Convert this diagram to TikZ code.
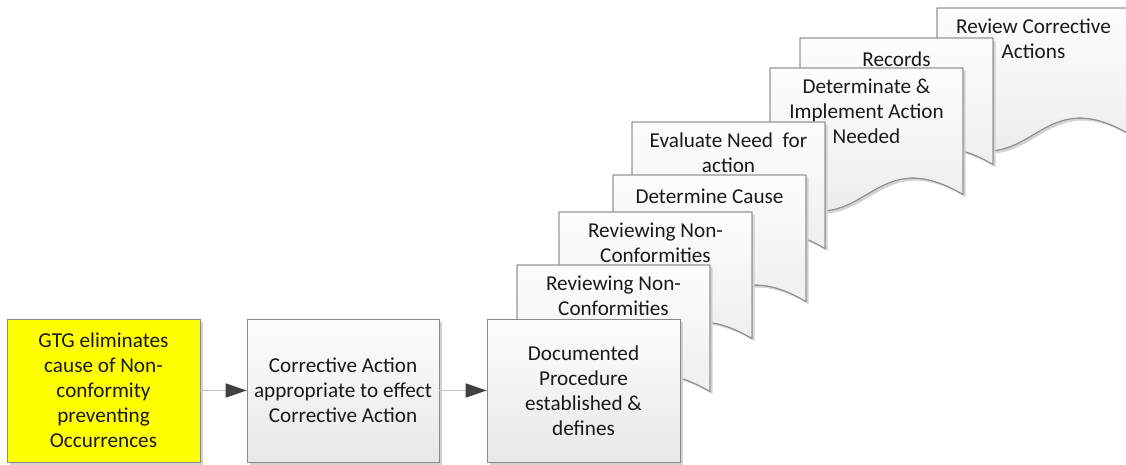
\documentclass[tikz,border=0pt]{standalone}
\usepackage{fontspec}
\setmainfont{Carlito}
\usetikzlibrary{arrows.meta,shadows}
\definecolor{edgegray}{HTML}{8A8A8A}
\definecolor{fillTop}{HTML}{FDFDFD}
\definecolor{fillBot}{HTML}{E8E8E8}
\definecolor{shadowgray}{HTML}{D2D2D2}
\definecolor{linkgray}{HTML}{C4C4C4}
\definecolor{headgray}{HTML}{404040}
\definecolor{gtgyellow}{HTML}{FFFF00}
\definecolor{textblack}{HTML}{1A1A1A}

\tikzset{
  basefont/.style={font=\fontsize{21.2}{25}\selectfont, text=textblack},
  procbox/.style={basefont, draw=edgegray, line width=0.8pt, minimum width=193pt,
    minimum height=143pt, inner sep=0pt, align=center,
    top color=fillTop, bottom color=fillBot,
    drop shadow={shadow xshift=2.5pt, shadow yshift=-2.5pt, fill=shadowgray, opacity=1}},
  yellowbox/.style={procbox, top color=gtgyellow, bottom color=gtgyellow, fill=gtgyellow},
  docpath/.style={draw=edgegray, line width=0.8pt, top color=fillTop, bottom color=fillBot},
  docshadow/.style={fill=shadowgray},
  doctext/.style={basefont, anchor=north, inner sep=0pt, align=center,
    execute at begin node=\strut},
  link/.style={draw=linkgray, line width=1.8pt,
    -{Triangle[length=21pt,width=14pt,color=headgray]}}
}

\newcommand\vdocshape[4]{%
  \fill[docshadow] ({#2+2.5},{#3+2.5}) -- ({#2+195.5},{#3+2.5}) -- ({#2+195.5},{#3+129.1})
    .. controls ({#2+99},{#3+71.9}) and ({#2+99},{#3+186.3}) .. ({#2+2.5},{#3+129.1}) -- cycle;
  \path[docpath] (#2,#3) -- ({#2+193},#3) -- ({#2+193},{#3+126.6})
    .. controls ({#2+96.5},{#3+69.4}) and ({#2+96.5},{#3+183.8}) .. (#2,{#3+126.6}) -- cycle;
  \draw[edgegray, line width=0.8pt] (#2,#3) -- ({#2+193},#3) -- ({#2+193},{#3+126.6})
    .. controls ({#2+96.5},{#3+69.4}) and ({#2+96.5},{#3+183.8}) .. (#2,{#3+126.6}) -- cycle;
  \node[doctext] (#1) at ({#2+96.5},{#3+10.5}) {#4};}

\begin{document}
\begin{tikzpicture}[x=1pt,y=-1pt]
\useasboundingbox (0,0) rectangle (1126,464);

% stacked document shapes, back to front
\vdocshape{rc}{937}{8}{Review Corrective\\Actions}
\vdocshape{rec}{800}{38}{Records}
\vdocshape{det}{770}{68}{Determinate \&\\Implement Action\\Needed}
\vdocshape{eva}{632}{122}{Evaluate Need\ \ for\\action}
\vdocshape{dc}{613}{175}{Determine Cause}
\vdocshape{rv2}{559}{212}{Reviewing Non-\\Conformities}
\vdocshape{rv1}{517}{265}{Reviewing Non-\\Conformities}

% front boxes
\node[procbox] (doc) at (583.5,390.5) {Documented\\Procedure\\established \&\\defines};
\node[procbox, minimum width=192pt] (corr) at (343,390.5) {Corrective Action\\appropriate to effect\\Corrective Action};
\node[yellowbox] (gtg) at (103.5,390.5) {GTG eliminates\\cause of Non-\\conformity\\preventing\\Occurrences};

% connectors
\draw[link] (gtg) -- (corr);
\draw[link] (corr) -- (doc);
\end{tikzpicture}
\end{document}
